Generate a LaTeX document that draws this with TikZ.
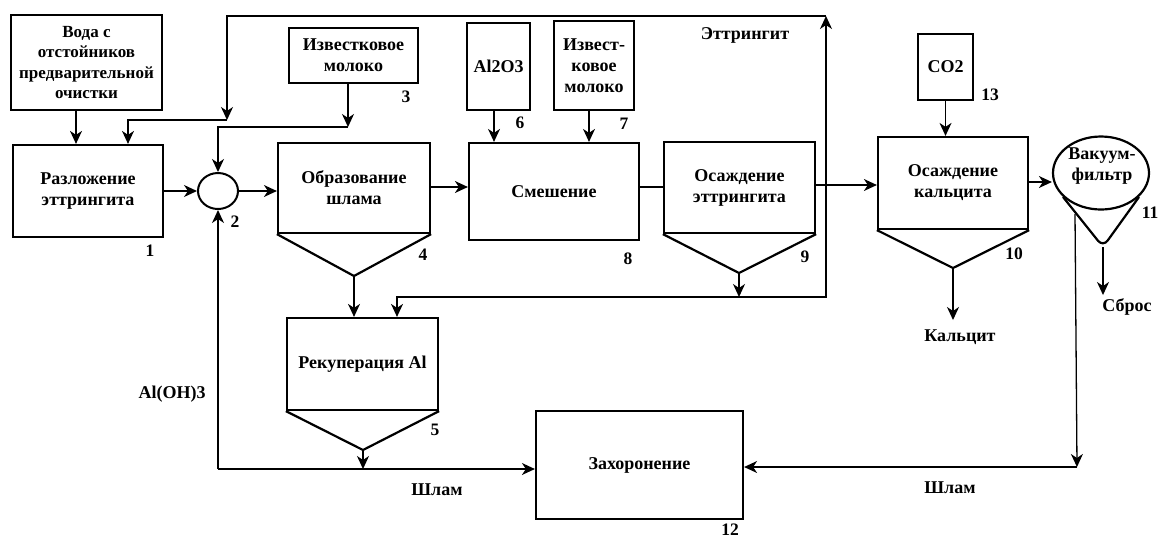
\documentclass[tikz,border=0pt]{standalone}
\usepackage{fontspec}
\setmainfont{Liberation Serif}
\usetikzlibrary{arrows.meta,shapes.geometric}
\begin{document}
\begin{tikzpicture}[x=1pt,y=-1pt,
  font=\fontsize{18}{21}\selectfont\bfseries,
  box/.style={draw,line width=2.2pt,align=center,inner sep=0pt},
  conn/.style={line width=1.3pt},
  arr/.style={conn,-{Stealth[length=13pt,width=12pt,inset=4pt]}},
  num/.style={inner sep=0pt,font=\fontsize{17.5}{20}\selectfont\bfseries},
  lbl/.style={inner sep=0pt},
  hop/.style={line width=2.2pt,line join=miter}]
\useasboundingbox (0,0) rectangle (1158,539);

% boxes
\node[box,minimum width=151pt,minimum height=95pt,font=\fontsize{17}{20.5}\selectfont\bfseries] (voda) at (86.5,62.5) {Вода с\\отстойников\\предварительной\\очистки};
\node[box,minimum width=150pt,minimum height=92pt] (b1) at (88,191) {Разложение\\эттрингита};
\node[draw,ellipse,line width=2pt,minimum width=40pt,minimum height=36pt,inner sep=0pt] (c2) at (218,191) {};
\node[box,minimum width=129pt,minimum height=55pt] (b3) at (353.5,55.5) {Известковое\\молоко};
\node[box,minimum width=152pt,minimum height=90pt] (b4) at (354,188) {Образование\\шлама};
\node[box,minimum width=151pt,minimum height=92pt] (b5) at (362.5,364) {Рекуперация Al};
\node[box,minimum width=63pt,minimum height=87pt] (b6) at (498.5,66.5) {Al2O3};
\node[box,minimum width=80pt,minimum height=89pt] (b7) at (594,65.5) {Извест-\\ковое\\молоко};
\node[box,minimum width=170pt,minimum height=97pt] (b8) at (554,191.5) {Смешение};
\node[box,minimum width=151pt,minimum height=91pt] (b9) at (739.5,187.5) {Осаждение\\эттрингита};
\node[box,minimum width=150pt,minimum height=92pt] (b10) at (953,183) {Осаждение\\кальцита};
\node[box,minimum width=55pt,minimum height=66pt] (b13) at (945.5,67) {CO2};
\node[draw,ellipse,line width=2.2pt,minimum width=96pt,minimum height=73pt,inner sep=0pt] (vf) at (1101,173) {};
\node[lbl,align=center] (vft) at (1102,166) {Вакуум-\\фильтр};
\node[box,minimum width=207pt,minimum height=108pt] (b12) at (639.5,465) {Захоронение};

% hoppers
\coordinate (a4) at (354,276);
\coordinate (a5) at (363,450);
\coordinate (a9) at (739,273);
\coordinate (a10) at (953,268);
\draw[hop] (b4.south west) -- (a4) -- (b4.south east);
\draw[hop] (b5.south west) -- (a5) -- (b5.south east);
\draw[hop] (b9.south west) -- (a9) -- (b9.south east);
\draw[hop] (b10.south west) -- (a10) -- (b10.south east);
% filter bulb
\coordinate (bl1) at (1063,197);
\coordinate (bb) at (1103,247);
\coordinate (bl2) at (1139,197);
\draw[line width=2.2pt,rounded corners=8pt] (bl1) -- (bb) -- (bl2);

% helper coordinates
\coordinate (x76) at (76,0);
\coordinate (x128) at (128,0);
\coordinate (x494) at (494,0);
\coordinate (x589) at (589,0);
\coordinate (x397) at (397,0);
\coordinate (j3) at (348,127);
\coordinate (jt) at (227,120);
\coordinate (tl) at (227,16);
\coordinate (tr) at (826,16);
\coordinate (j9) at (739,297);
\coordinate (br) at (826,297);
\coordinate (y187) at (0,187);
\coordinate (y185) at (0,185);
\coordinate (y182) at (0,182);
\coordinate (bottomL) at (218,469);
\coordinate (j5) at (363,469);
\coordinate (vs) at (1075,214);
\coordinate (ve) at (1077,467);
\coordinate (kal) at (953,320);
\coordinate (sbr) at (1103,295);

% connectors
\draw[arr] (voda.south -| x76) -- (b1.north -| x76);
\draw[arr] (j9) -- (br) -- (tr);
\draw[arr] (tr) -- (tl) -- (jt);
\draw[arr] (jt) -| (b1.north -| x128);
\draw[arr] (b3.south -| j3) -- (j3);
\draw[arr] (j3) -| (c2.north);
\draw[arr] (b1.east) -- (c2.west);
\draw[arr] (c2.east) -- (c2.east -| b4.west);
\draw[arr] (b4.east |- y187) -- (b8.west |- y187);
\draw[conn] (b8.east |- y187) -- (b9.west |- y187);
\draw[arr] (b9.east |- y185) -- (b10.west |- y185);
\draw[arr] (b10.east |- y182) -- (vf.west |- y182);
\draw[arr] (b13.south) -- (b10.north -| b13.south);
\draw[arr] (b6.south -| x494) -- (b8.north -| x494);
\draw[arr] (b7.south -| x589) -- (b8.north -| x589);
\draw[arr] (a4) -- (b5.north -| a4);
\draw[arr] (a9) -- (j9);
\draw[arr] (j9) -- (j9 -| x397) -- (b5.north -| x397);
\draw[arr] (a5) -- (j5);
\draw[arr] (bottomL) -- (c2.south);
\draw[arr] (bottomL) -- (b12.west |- bottomL);
\draw[arr] (vs) -- (ve);
\draw[arr] (ve) -- (b12.east |- ve);
\draw[arr] (bb) -- (sbr);
\draw[arr] (a10) -- (kal);

% labels
\node[num] (n1) at (150,251) {1};
\node[num] (n2) at (235,222) {2};
\node[num] (n3) at (406,97) {3};
\node[num] (n4) at (423,255) {4};
\node[num] (n5) at (435,430) {5};
\node[num] (n6) at (520,123) {6};
\node[num] (n7) at (624,124) {7};
\node[num] (n8) at (628,259) {8};
\node[num] (n9) at (805,257) {9};
\node[num] (n10) at (1014,254) {10};
\node[num] (n11) at (1150,213) {11};
\node[num] (n12) at (730,530) {12};
\node[num] (n13) at (990,95) {13};
\node[lbl] (ett) at (745,35) {Эттрингит};
\node[lbl] (aloh) at (172,394) {Al(OH)3};
\node[lbl] (shl1) at (437,490) {Шлам};
\node[lbl] (shl2) at (950,488) {Шлам};
\node[lbl] (kalt) at (960,337) {Кальцит};
\node[lbl] (sbrt) at (1127,307) {Сброс};
\end{tikzpicture}
\end{document}
